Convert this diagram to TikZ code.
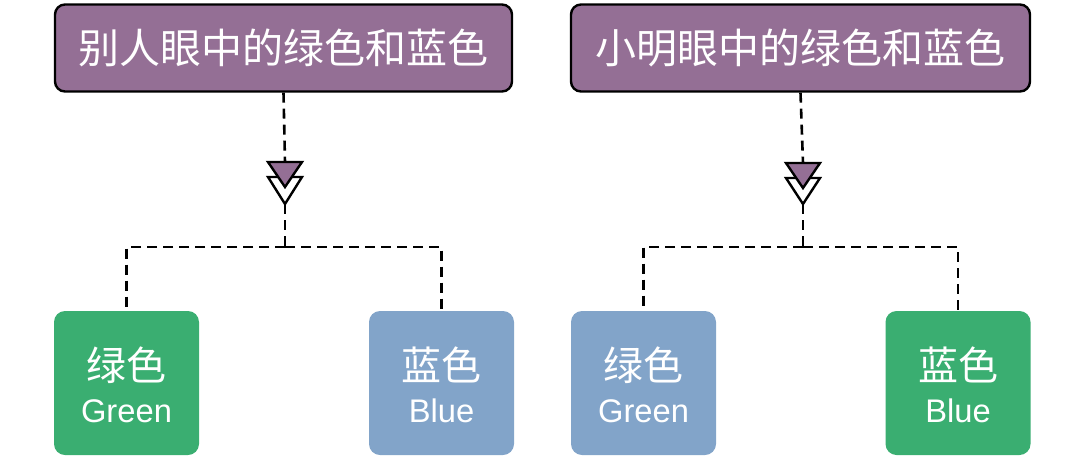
\documentclass[tikz,border=0pt]{standalone}
\usepackage{fontspec}
\newfontfamily\cjk{Noto Sans CJK SC}
\newfontfamily\lat{Liberation Sans}
\definecolor{hpurple}{RGB}{148,111,149}
\definecolor{hgreen}{RGB}{58,174,113}
\definecolor{hblue}{RGB}{130,164,201}
\tikzset{
  headbox/.style={draw=black, line width=2.4pt, fill=hpurple, rounded corners=10pt,
    minimum width=457pt, minimum height=87pt, inner sep=0pt, text=white,
    font=\cjk\fontsize{41}{41}\selectfont},
  leafbox/.style={rounded corners=11pt, minimum width=145pt, minimum height=144pt, inner sep=0pt},
  greenbox/.style={leafbox, fill=hgreen},
  bluebox/.style={leafbox, fill=hblue},
  zhlabel/.style={anchor=base, inner sep=0pt, text=white, font=\cjk\fontsize{40}{40}\selectfont},
  enlabel/.style={anchor=base, inner sep=0pt, text=white, font=\lat\fontsize{32.7}{33}\selectfont},
  dashline/.style={draw=black, line width=2.6pt, dash pattern=on 10pt off 6pt},
  tipline/.style={draw=black, line width=2.4pt, line join=miter},
}
\begin{document}
\begin{tikzpicture}[x=1pt,y=-1pt]
\useasboundingbox (0,0) rectangle (1080,456);

% header boxes
\node[headbox] (h1) at (283.5,48) {别人眼中的绿色和蓝色};
\node[headbox, minimum width=459pt] (h2) at (800.5,48) {小明眼中的绿色和蓝色};

% leaf boxes
\node[greenbox] (l1) at (126.5,383) {};
\node[bluebox]  (l2) at (441.5,383) {};
\node[bluebox]  (l3) at (643.5,383) {};
\node[greenbox] (l4) at (958,383) {};

\node[zhlabel] (l1z) at (126.5,380) {绿色};
\node[enlabel] (l1e) at (126.5,422) {Green};
\node[zhlabel] (l2z) at (441.5,380) {蓝色};
\node[enlabel] (l2e) at (441.5,422) {Blue};
\node[zhlabel] (l3z) at (643.5,380) {绿色};
\node[enlabel] (l3e) at (643.5,422) {Green};
\node[zhlabel] (l4z) at (958,380) {蓝色};
\node[enlabel] (l4e) at (958,422) {Blue};

% arrow markers and junctions
\coordinate (a1) at (285,162);
\coordinate (b1) at (285,204);
\coordinate (j1) at (285,247);
\coordinate (a2) at (803,163);
\coordinate (b2) at (803,204);
\coordinate (j2) at (803,247);

\foreach \a/\b/\j/\h/\l/\r in {a1/b1/j1/h1/l1/l2, a2/b2/j2/h2/l3/l4}{
  \draw[dashline] (\h.south) -- (\a);
  \draw[dashline] (\b) -- (\j);
  \draw[dashline] (\j) -| (\l.north);
  \draw[dashline] (\j) -| (\r.north);
  % white triangle (lower)
  \filldraw[tipline, fill=white] ([shift={(-17,15)}]\a) -- ([shift={(17,15)}]\a) -- (\b) -- cycle;
  % purple triangle (upper)
  \filldraw[tipline, fill=hpurple] ([shift={(-17,0)}]\a) -- ([shift={(17,0)}]\a) -- ([shift={(0,25)}]\a) -- cycle;
}
\end{tikzpicture}
\end{document}
